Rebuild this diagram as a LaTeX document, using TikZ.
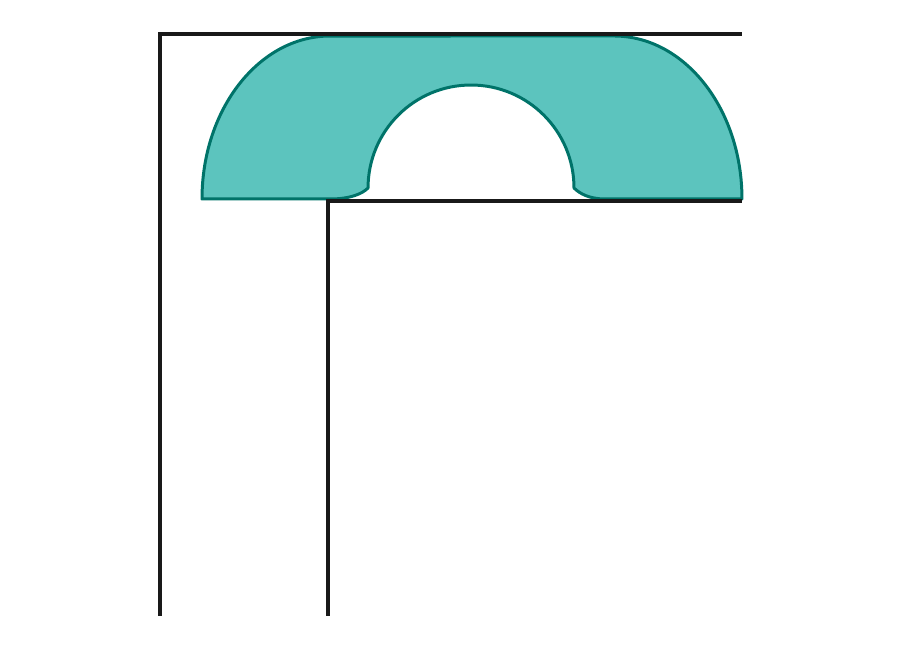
\documentclass[tikz,border=0pt]{standalone}
\usepackage{tikz}
\usepackage{xcolor}
\definecolor{wallcol}{rgb}{0.1,0.1,0.1}
\definecolor{tealfill}{RGB}{92,196,190}
\definecolor{tealline}{RGB}{0,115,105}

\begin{document}
\begin{tikzpicture}[x=0.02cm, y=0.02cm,
wall/.style={draw=wallcol, line width=2pt},
blob/.style={draw=tealline, fill=tealfill, line width=1.7pt, line join=round}]
\useasboundingbox (0,0) rectangle (900,655);
% shape
\draw[blob] (202,456) arc[start angle=180, end angle=90, x radius=2.56cm, y radius=3.26cm]
  -- (614,619) arc[start angle=90, end angle=0, x radius=2.56cm, y radius=3.26cm]
  -- (605,456) .. controls (590,456) and (580,461) .. (574,467)
  arc[start angle=0, end angle=180, radius=2.06cm]
  .. controls (362,461) and (350,456) .. (330,456) -- cycle;
% walls
\draw[wall] (160,39) -- (160,621) -- (742,621);
\draw[wall] (328,39) -- (328,454) -- (742,454);
\end{tikzpicture}
\end{document}
